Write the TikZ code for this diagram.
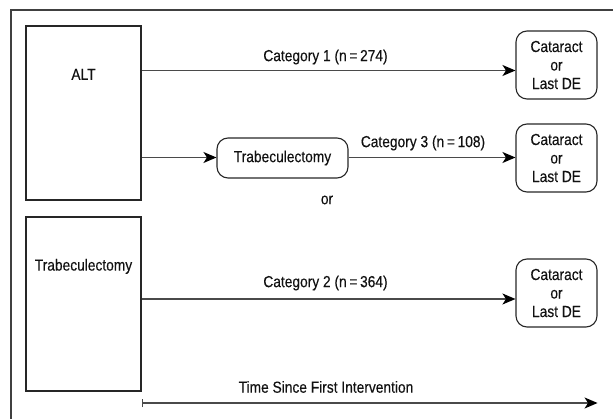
\documentclass[tikz,border=0pt]{standalone}
\usepackage{fontspec}
\setmainfont{Liberation Sans}[FakeStretch=0.86,FakeBold=0.25]
\usetikzlibrary{arrows.meta}
\definecolor{ln}{HTML}{4A4A4A}
\definecolor{tx}{HTML}{111111}
\tikzset{
  every node/.style={font=\fontsize{16}{18.5}\selectfont, text=tx},
  sqbox/.style={draw=black!85, line width=1.1pt, rectangle, minimum width=115pt, minimum height=174pt, inner sep=0pt},
  rbox/.style={draw=black!85, line width=1.1pt, rectangle, rounded corners=11pt, align=center, inner sep=0pt},
  tip/.tip={Stealth[length=13pt,width=11pt,inset=3.5pt,color=black]},
  arr/.style={draw=ln, line width=1.3pt, -tip},
  lbl/.style={inner sep=0pt},
}
\begin{document}
\begin{tikzpicture}[x=1pt,y=-1pt]
\useasboundingbox (0,0) rectangle (613,419);
\draw[draw=black!75, line width=1.3pt] (11,425) -- (11,10) -- (620,10);
% left boxes
\node[sqbox, label={[anchor=center,yshift=-49pt,inner sep=0pt]north:ALT}] (alt) at (83.5,113) {};
\node[sqbox, label={[anchor=center,yshift=-50pt,inner sep=0pt]north:Trabeculectomy}] (trabA) at (83.5,304) {};
% middle
\node[rbox, minimum width=131pt, minimum height=40pt] (trabB) at (282.5,158) {Trabeculectomy};
% right boxes
\node[rbox, minimum width=81pt, minimum height=68pt] (cat1) at (556.5,65) {Cataract\\or\\Last DE};
\node[rbox, minimum width=81pt, minimum height=68pt] (cat2) at (556.5,158) {Cataract\\or\\Last DE};
\node[rbox, minimum width=81pt, minimum height=68pt] (cat3) at (556.5,293) {Cataract\\or\\Last DE};
% arrows
\draw[arr] (alt.east |- 0,70.5) -- (cat1.west |- 0,70.5);
\draw[arr] (alt.east |- 0,157.5) -- (trabB.west |- 0,157.5);
\draw[arr] (trabB.east |- 0,157.5) -- (cat2.west |- 0,157.5);
\draw[arr] (trabA.east |- 0,299) -- (cat3.west |- 0,299);
\coordinate (t0) at (trabA.east |- 0,403);
\coordinate (t1) at (cat3.east |- 0,403);
\draw[draw=ln, line width=1.3pt, {Bar[width=8pt]}-tip] (t0) -- (t1);
% labels
\node[lbl] (l1) at (325.5,57) {Category 1 (n\,=\,274)};
\node[lbl] (l3) at (423,143) {Category 3 (n\,=\,108)};
\node[lbl] (l2) at (325.5,283) {Category 2 (n\,=\,364)};
\node[lbl] (or) at (327,200) {or};
\node[lbl] (tl) at (326,387) {Time Since First Intervention};
\end{tikzpicture}
\end{document}
